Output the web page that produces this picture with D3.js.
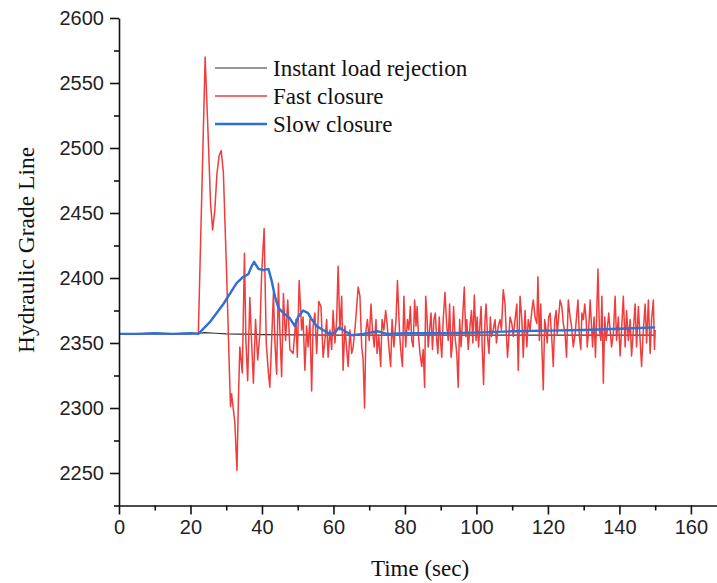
<!DOCTYPE html>
<html>
<head>
<meta charset="utf-8">
<script src="https://cdn.jsdelivr.net/npm/d3@7"></script>
<style>
  html, body { margin: 0; padding: 0; background: #ffffff; }
  svg { display: block; }
</style>
</head>
<body>
<svg id="chart" width="717" height="583"></svg>
<script>
// ---------------- data ----------------
const xTicks = [0, 20, 40, 60, 80, 100, 120, 140, 160];
const xMinorTicks = [10, 30, 50, 70, 90, 110, 130, 150];
const yTicks = [2250, 2300, 2350, 2400, 2450, 2500, 2550, 2600];
const yMinorTicks = [2225, 2275, 2325, 2375, 2425, 2475, 2525, 2575];
const xTitle = "Time (sec)";
const yTitle = "Hydraulic Grade Line";
const seriesNames = ["Instant load rejection", "Fast closure", "Slow closure"];

const instantTime = [0, 20, 22.2, 24, 27, 30, 40, 60, 100, 150];
const instantHGL  = [2357, 2357, 2357.5, 2358, 2357.5, 2357, 2356.5, 2356, 2356, 2356];

const fastTime = [
  0, 5, 10, 15, 20, 22.2, 24.1, 25.0, 25.6, 26.2, 26.8, 27.4, 28.0, 28.6, 29.2, 30.1, 30.9, 31.2, 31.5, 31.9,
  32.4, 33.0, 33.4, 33.8, 34.5, 35.1, 35.5, 36.0, 36.6, 37.1, 37.6, 38.2, 38.8, 39.4, 39.9, 40.6, 41.2, 41.8, 42.2, 43.2,
  43.6, 44.1, 44.6, 45.0, 45.5, 46.0, 46.6, 47.2, 47.8,
  48.7, 49.5, 49.9, 50.4, 51.1, 51.5, 52.0, 52.5, 52.9, 53.4, 53.9, 54.3, 54.8, 55.3, 55.9, 56.5, 57.1, 57.6, 58.1, 58.5,
  59.0, 59.5, 59.9, 60.4, 60.9, 61.3, 61.8, 62.3, 62.7, 63.2, 63.7, 64.1, 64.6, 65.1, 65.5, 66.0, 66.5, 66.9, 67.4, 67.9,
  68.3, 68.7, 69.1, 69.5, 70.0, 70.5, 70.9, 71.4, 71.9, 72.2, 72.7, 73.2, 73.6, 74.1, 74.6, 75.0, 75.5, 76.0, 76.4, 76.9,
  77.5, 77.9, 78.5, 78.9, 79.3, 79.7, 80.2, 80.7, 81.1, 81.5, 81.9, 82.3, 82.7, 83.1, 83.4, 83.8, 84.2, 84.7, 85.1, 85.5,
  85.8, 86.2, 86.5, 86.9, 87.3, 87.7, 88.1, 88.5, 88.9, 89.2, 89.6, 90.0, 90.3, 90.7, 91.2, 91.7, 92.1, 92.5, 92.9, 93.2,
  93.6, 94.0, 94.5, 94.9, 95.3, 95.7, 96.1, 96.6, 97.0, 97.3, 97.7, 98.2, 98.6, 99.0, 99.4, 99.9, 100.2, 100.6, 101.0, 101.3,
  101.6, 102.0, 102.4, 102.7, 103.1, 103.5, 103.9, 104.2, 104.7, 105.2, 105.6, 106.1, 106.6, 107.0, 107.5, 108.0, 108.3, 108.7, 109.0, 109.4,
  109.9, 110.3, 110.8, 111.3, 111.7, 112.2, 112.7, 113.1, 113.6, 114.1, 114.5, 115.0, 115.5, 115.9, 116.4, 116.9, 117.2, 117.6, 118.0, 118.3,
  118.7, 119.1, 119.5, 119.8, 120.2, 120.6, 121.1, 121.5, 121.9, 122.3, 122.6, 123.0, 123.4, 123.9, 124.3, 124.8, 125.2, 125.7, 126.2, 126.6,
  127.1, 127.6, 128.0, 128.4, 128.8, 129.2, 129.5, 129.9, 130.3, 130.7, 131.0, 131.4, 131.8, 132.1, 132.5, 132.9, 133.3, 133.6, 134.0, 134.4,
  134.8, 135.1, 135.5, 135.9, 136.3, 136.6, 137.0, 137.8, 138.3, 138.8, 139.2, 139.7, 140.2, 140.6, 141.1, 141.6, 142.0, 142.5, 143.0, 143.4,
  143.9, 144.4, 144.8, 145.3, 145.8, 146.2, 146.7, 147.2, 147.6, 148.1, 148.6, 149.0, 149.5, 149.8, 150.0
];
const fastHGL = [
  2357, 2357, 2357.5, 2357, 2357.5, 2357.5, 2570, 2505, 2458, 2437, 2452, 2480, 2494, 2498, 2481, 2404, 2327, 2301, 2311, 2301,
  2289, 2252, 2305, 2347, 2327, 2419, 2352, 2321, 2385, 2350, 2319, 2368, 2337, 2357, 2403, 2438, 2350, 2327, 2316, 2388,
  2352, 2326, 2396, 2360, 2324, 2388, 2352, 2383, 2345,
  2342, 2368, 2339, 2398, 2360, 2370, 2329, 2363, 2347, 2368, 2313, 2363, 2373, 2342, 2382, 2378, 2339, 2352, 2368, 2339,
  2360, 2345, 2375, 2350, 2368, 2409, 2360, 2386, 2329, 2363, 2345, 2332, 2360, 2342, 2347, 2360, 2378, 2393, 2386, 2347,
  2337, 2300, 2360, 2368, 2352, 2380, 2360, 2347, 2368, 2342, 2355, 2332, 2368, 2360, 2375, 2365, 2347, 2332, 2368, 2347,
  2368, 2398, 2357, 2342, 2332, 2386, 2347, 2368, 2360, 2378, 2352, 2347, 2383, 2363, 2378, 2355, 2342, 2332, 2345, 2316,
  2386, 2368, 2347, 2360, 2373, 2345, 2368, 2373, 2352, 2342, 2370, 2350, 2339, 2368, 2389, 2363, 2352, 2380, 2339, 2347,
  2378, 2355, 2342, 2316, 2368, 2347, 2368, 2393, 2355, 2368, 2345, 2363, 2375, 2350, 2387, 2352, 2370, 2347, 2365, 2378,
  2347, 2318, 2368, 2380, 2355, 2342, 2370, 2355, 2360, 2368, 2350, 2363, 2368, 2360, 2391, 2380, 2360, 2339, 2352, 2370,
  2365, 2355, 2368, 2380, 2329, 2386, 2368, 2339, 2375, 2347, 2368, 2360, 2375, 2383, 2370, 2365, 2401, 2352, 2380, 2347,
  2314, 2368, 2360, 2350, 2370, 2373, 2352, 2332, 2368, 2375, 2357, 2370, 2383, 2378, 2365, 2357, 2339, 2383, 2370, 2363,
  2347, 2357, 2370, 2383, 2355, 2345, 2373, 2368, 2380, 2368, 2347, 2360, 2383, 2368, 2347, 2370, 2339, 2368, 2407, 2360,
  2352, 2386, 2319, 2370, 2352, 2360, 2373, 2347, 2357, 2386, 2352, 2370, 2340, 2360, 2386, 2347, 2375, 2352, 2368, 2340,
  2360, 2380, 2347, 2378, 2352, 2332, 2360, 2380, 2350, 2383, 2342, 2368, 2383, 2345, 2360
];

const slowTime = [0, 5, 10, 15, 20, 22.2, 25.4, 29.2, 32.9, 34.8, 36.2, 37.1, 37.8, 39.0, 40.4, 41.8, 42.7, 43.6, 44.6, 46.0,
  47.8, 49.2, 50.1, 51.5, 52.9, 53.9, 55.3, 57.1, 59.0, 60.3, 61.6, 62.7, 65.1, 68.3, 72.5, 75, 80, 90, 100, 110,
  120, 130, 140, 150];
const slowHGL = [2357, 2357, 2357.5, 2357, 2357.5, 2357, 2366, 2380, 2396, 2401, 2403, 2409, 2412.5, 2407, 2406, 2407, 2398, 2386, 2377, 2373,
  2369, 2363, 2370, 2375, 2373, 2368, 2363, 2360, 2357, 2358, 2362, 2360, 2356, 2357, 2359, 2357, 2357.5, 2357.5, 2358, 2359,
  2359.5, 2360, 2361, 2362];

// ---------------- drawing ----------------
const svg = d3.select("#chart");
const x = d3.scaleLinear().domain([0, 167.3]).range([119, 717]);
const y = d3.scaleLinear().domain([2225, 2600]).range([505.5, 18]);

const colors = ["#333333", "#f03c3c", "#2f6fd6"];
const widths = [1.2, 1.5, 2.4];

function toPts(ts, vs) { return ts.map((t, i) => [t, vs[i]]); }
const series = [toPts(instantTime, instantHGL), toPts(fastTime, fastHGL), toPts(slowTime, slowHGL)];

const line = d3.line().x(d => x(d[0])).y(d => y(d[1]));

series.forEach((s, i) => {
  svg.append("path")
    .datum(s)
    .attr("d", line)
    .attr("fill", "none")
    .attr("stroke", colors[i])
    .attr("stroke-width", widths[i])
    .attr("stroke-linejoin", "round");
});

// axes
const axisFont = "'Liberation Sans', Arial, sans-serif";
const serif = "'Liberation Serif', 'Times New Roman', serif";
const fmt = d3.format("d");

svg.append("g").attr("transform", `translate(0,${y(2225)})`)
  .call(d3.axisBottom(x).tickValues(xTicks).tickFormat(fmt).tickSize(9).tickSizeOuter(0).tickPadding(5));
svg.append("g").attr("transform", `translate(0,${y(2225)})`)
  .call(d3.axisBottom(x).tickValues(xMinorTicks).tickSize(5).tickSizeOuter(0).tickFormat(""))
  .select(".domain").remove();

svg.append("g").attr("transform", `translate(${x(0)},0)`)
  .call(d3.axisLeft(y).tickValues(yTicks).tickFormat(fmt).tickSize(9).tickSizeOuter(0).tickPadding(6));
svg.append("g").attr("transform", `translate(${x(0)},0)`)
  .call(d3.axisLeft(y).tickValues(yMinorTicks).tickSize(5).tickSizeOuter(0).tickFormat(""))
  .select(".domain").remove();

svg.selectAll(".domain, .tick line").attr("stroke", "#111").attr("stroke-width", 1.6);
svg.selectAll(".tick text").attr("font-family", axisFont).attr("font-size", 20).attr("fill", "#222");

// titles
svg.append("text")
  .attr("x", 420).attr("y", 576)
  .attr("text-anchor", "middle")
  .attr("font-family", serif).attr("font-size", 23).attr("fill", "#111")
  .text(xTitle);
svg.append("text")
  .attr("transform", `translate(34,250) rotate(-90)`)
  .attr("text-anchor", "middle")
  .attr("font-family", serif).attr("font-size", 23.5).attr("fill", "#111")
  .text(yTitle);

// legend
const legendY = [68, 96, 124];
seriesNames.forEach((name, i) => {
  svg.append("line")
    .attr("x1", 215).attr("x2", 267)
    .attr("y1", legendY[i]).attr("y2", legendY[i])
    .attr("stroke", colors[i]).attr("stroke-width", widths[i]);
  svg.append("text")
    .attr("x", 273).attr("y", legendY[i])
    .attr("dy", "0.35em")
    .attr("font-family", serif).attr("font-size", 23).attr("fill", "#111")
    .text(name);
});
</script>
</body>
</html>
